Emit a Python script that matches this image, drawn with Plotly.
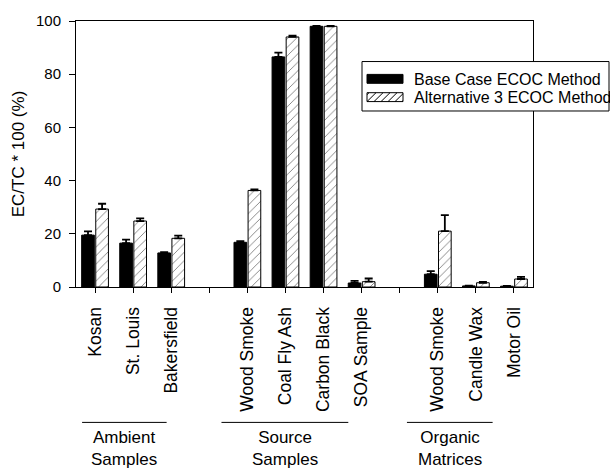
import plotly.graph_objects as go

categories = ["Kosan", "St. Louis", "Bakersfield", "", "Wood Smoke", "Coal Fly Ash",
              "Carbon Black", "SOA Sample", "", "Wood Smoke", "Candle Wax", "Motor Oil"]
base_vals = [19.5, 16.5, 12.8, None, 16.8, 86.5, 98.0, 1.5, None, 4.8, 0.4, 0.3]
base_err = [1.4, 1.3, 0.3, 0, 0.4, 1.6, 0.2, 0.8, 0, 1.2, 0.1, 0.1]
alt_vals = [29.3, 24.8, 18.3, None, 36.3, 94.0, 98.0, 2.0, None, 21.0, 1.6, 3.0]
alt_err = [2.0, 1.0, 1.0, 0, 0.4, 0.5, 0.2, 1.2, 0, 6.0, 0.3, 0.8]
group_labels = ["Ambient<br>Samples", "Source<br>Samples", "Organic<br>Matrices"]
group_spans = [(-0.34, 1.88), (3.32, 6.65), (8.19, 10.44)]
series_names = ["Base Case ECOC Method", "Alternative 3 ECOC Method"]

xpos = list(range(len(categories)))
font = "Arial, Liberation Sans, sans-serif"

# plot area in pixels (for converting legend geometry to paper coords)
L, R, T, B = 76, 533, 18, 287
def px(x):
    return (x - L) / (R - L)
def py(y):
    return (B - y) / (B - T)

fig = go.Figure()
fig.add_trace(go.Bar(
    x=xpos, y=base_vals, name=series_names[0],
    marker=dict(color="black", line=dict(color="black", width=1)),
    error_y=dict(type="data", array=base_err, arrayminus=[0]*len(base_err), symmetric=False,
                 color="black", thickness=1.8, width=4),
))
fig.add_trace(go.Bar(
    x=xpos, y=alt_vals, name=series_names[1],
    marker=dict(color="white", line=dict(color="black", width=1),
                pattern=dict(shape="/", fgcolor="black", bgcolor="white", size=6, solidity=0.15)),
    error_y=dict(type="data", array=alt_err, arrayminus=[0]*len(alt_err), symmetric=False,
                 color="black", thickness=1.8, width=4),
))

shapes = []
annotations = []
for label, (x0, x1) in zip(group_labels, group_spans):
    shapes.append(dict(type="line", xref="x", yref="paper", x0=x0, x1=x1, y0=-0.509, y1=-0.509,
                       line=dict(color="black", width=1)))
    annotations.append(dict(xref="x", yref="paper", x=(x0 + x1) / 2, y=-0.522, yanchor="top",
                            text=label, showarrow=False,
                            font=dict(size=17, color="black", family=font)))

# custom legend
shapes.append(dict(type="rect", xref="paper", yref="paper", x0=px(362), x1=px(609),
                   y0=py(109), y1=py(59), line=dict(color="black", width=1), fillcolor="white",
                   layer="above"))
shapes.append(dict(type="rect", xref="paper", yref="paper", x0=px(367), x1=px(403),
                   y0=py(81), y1=py(72), line=dict(color="black", width=1), fillcolor="black",
                   layer="above"))
shapes.append(dict(type="rect", xref="paper", yref="paper", x0=px(367), x1=px(403),
                   y0=py(99.5), y1=py(90.5), line=dict(color="black", width=1), fillcolor="white",
                   layer="above"))
for k in range(-1, 6):
    xa = 367 + k * 7
    xb = xa + 9
    ya, yb = 99.5, 90.5
    if xa < 367:
        ya = ya - (367 - xa) * 1.0
        xa = 367
    if xb > 403:
        yb = yb + (xb - 403) * 1.0
        xb = 403
    if xb > xa:
        shapes.append(dict(type="line", xref="paper", yref="paper", x0=px(xa), x1=px(xb),
                           y0=py(ya), y1=py(yb), line=dict(color="black", width=1), layer="above"))
for name, ty in zip(series_names, [77, 95]):
    annotations.append(dict(xref="paper", yref="paper", x=px(412), y=py(ty), xanchor="left",
                            yanchor="middle", text=name, showarrow=False,
                            font=dict(size=16, color="black", family=font)))

fig.update_layout(
    width=610, height=470,
    margin=dict(l=L, r=610 - R, t=T, b=470 - B),
    paper_bgcolor="white", plot_bgcolor="white",
    barmode="group", bargap=0.26, bargroupgap=0.1,
    font=dict(family=font, size=15, color="black"),
    showlegend=False,
    xaxis=dict(range=[-0.5, 11.5], tickmode="array", tickvals=xpos, ticktext=categories,
               tickangle=-90, ticks="outside", ticklen=5, tickcolor="black",
               ticklabelstandoff=7,
               showline=True, linecolor="black", linewidth=1, mirror=True,
               showgrid=False, tickfont=dict(size=17.5)),
    yaxis=dict(range=[0, 100], dtick=20, ticks="outside", ticklen=6, tickcolor="black",
               ticklabelstandoff=5,
               showline=True, linecolor="black", linewidth=1, mirror=True, showgrid=False,
               zeroline=False, tickfont=dict(size=15),
               title=dict(text="EC/TC * 100 (%)", font=dict(size=17), standoff=7)),
    shapes=shapes, annotations=annotations,
)
fig.write_html("out.html")
